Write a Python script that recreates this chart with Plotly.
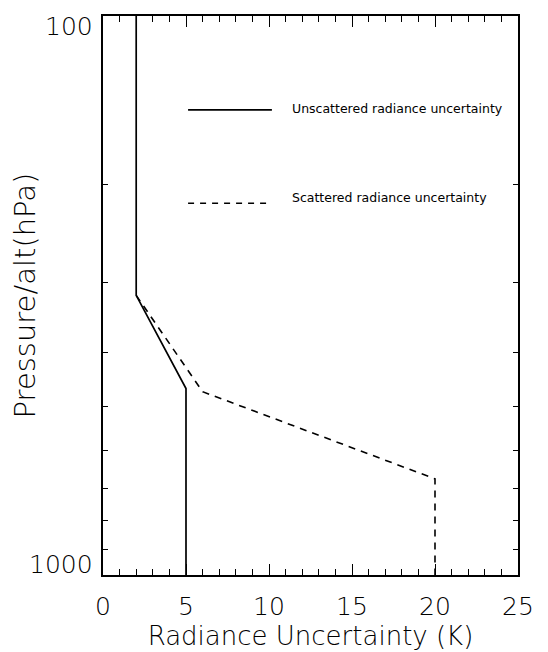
import math
import plotly.graph_objects as go

# Data
unscat_x = [2, 2, 5, 5]
unscat_p = [100, 316, 464, 1000]
scat_x = [2, 6, 20, 20]
scat_p = [316, 470, 673, 1000]

x_range = [0, 25]
y_tickvals = [100, 200, 300, 400, 500, 600, 700, 800, 900, 1000]
y_labels = {100: "100", 1000: "1000"}
legend_labels = ["Unscattered radiance uncertainty", "Scattered radiance uncertainty"]

FONT = "DejaVu Sans"
W = 200
fig = go.Figure()
fig.add_trace(go.Scatter(x=unscat_x, y=unscat_p, mode="lines",
                         line=dict(color="black", width=1.7), showlegend=False))
fig.add_trace(go.Scatter(x=scat_x, y=scat_p, mode="lines",
                         line=dict(color="black", width=1.6, dash="7px,6px"), showlegend=False))
# invisible trace to carry the minor-tick overlay axis
fig.add_trace(go.Scatter(x=x_range, y=[100, 1000], mode="markers", xaxis="x2",
                         marker=dict(opacity=0), showlegend=False, hoverinfo="skip"))

# legend samples (paper coords)
fig.add_shape(type="line", xref="paper", yref="paper", x0=0.205, x1=0.407, y0=0.832, y1=0.832,
              line=dict(color="black", width=1.6))
fig.add_shape(type="line", xref="paper", yref="paper", x0=0.205, x1=0.407, y0=0.665, y1=0.665,
              line=dict(color="black", width=1.4, dash="6px,6px"))
fig.add_annotation(xref="paper", yref="paper", x=0.451, y=0.835, text=legend_labels[0],
                   showarrow=False, xanchor="left", yanchor="middle",
                   font=dict(family=FONT, size=12.5, color="black", weight=400))
fig.add_annotation(xref="paper", yref="paper", x=0.451, y=0.676, text=legend_labels[1],
                   showarrow=False, xanchor="left", yanchor="middle",
                   font=dict(family=FONT, size=12.5, color="black", weight=400))

# y tick labels (100 sits below the top tick, 1000 above the bottom tick, as in the reference)
for v, t in y_labels.items():
    top = v == min(y_labels)
    fig.add_annotation(xref="paper", yref="y", x=0, y=math.log10(v), text=t,
                       showarrow=False, xanchor="right", yanchor="top" if top else "bottom",
                       xshift=-8, yshift=6 if top else -6,
                       font=dict(family=FONT, size=25, color="black", weight=W))

fig.update_layout(
    width=540, height=644,
    margin=dict(l=95, r=30, t=8, b=77, autoexpand=False),
    paper_bgcolor="white", plot_bgcolor="white",
    font=dict(family=FONT, color="black", weight=W),
    showlegend=False,
    xaxis2=dict(overlaying="x", anchor="y", side="bottom", range=x_range, dtick=1,
                ticks="inside", ticklen=6, tickwidth=1.3, tickcolor="black",
                showticklabels=False, showline=False, mirror="ticks",
                showgrid=False, zeroline=False, automargin=False),
)
fig.layout.xaxis.update(
    range=x_range, tickmode="linear", tick0=0, dtick=5, automargin=False,
    ticks="inside", ticklen=11, tickwidth=1.3, tickcolor="black",
    showline=True, linecolor="black", linewidth=1.5, mirror="ticks",
    showgrid=False, zeroline=False,
    tickfont=dict(family=FONT, size=25, weight=W), ticklabelstandoff=8,
    title=dict(text="Radiance Uncertainty (K)", font=dict(family=FONT, size=26, weight=W), standoff=6),
)
fig.update_yaxes(
    type="log", range=[3, 2], autorange=False, automargin=False,
    tickvals=y_tickvals, showticklabels=False,
    ticks="inside", ticklen=5, tickwidth=1.3, tickcolor="black",
    showline=True, linecolor="black", linewidth=1.5, mirror="ticks",
    showgrid=False, zeroline=False,
    title=dict(text="Pressure/alt(hPa)", font=dict(family=FONT, size=29, weight=W), standoff=62),
)
fig.write_html("out.html")
